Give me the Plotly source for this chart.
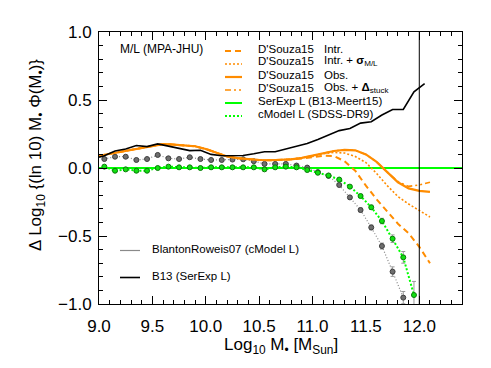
import plotly.graph_objects as go

# mass bins (log10 M*) for the binned measurements
mass_bins = [9.05, 9.15, 9.25, 9.35, 9.45, 9.55, 9.65, 9.75, 9.85, 9.95,
             10.05, 10.15, 10.25, 10.35, 10.45, 10.55, 10.65, 10.75, 10.85, 10.95,
             11.05, 11.15, 11.25, 11.35, 11.45, 11.55, 11.65, 11.75, 11.85, 11.95]

# BlantonRoweis07 (cModel L)
br07_mass = [9.05, 9.15, 9.25, 9.35, 9.45, 9.55, 9.65, 9.75, 9.85, 9.95,
             10.05, 10.15, 10.25, 10.35, 10.45, 10.55, 10.65, 10.75, 10.85, 10.95,
             11.05, 11.15, 11.25, 11.35, 11.45, 11.55, 11.65, 11.75, 11.85]
br07_val = [0.066, 0.083, 0.083, 0.059, 0.066, 0.096, 0.071, 0.066, 0.079, 0.066,
            0.059, 0.059, 0.062, 0.064, 0.050, 0.030, 0.030, 0.030, 0.018, 0.003,
            -0.030, -0.058, -0.125, -0.216, -0.309, -0.437, -0.574, -0.762, -0.953]
br07_err = [0.008, 0.008, 0.008, 0.008, 0.008, 0.008, 0.008, 0.008, 0.008, 0.008,
            0.008, 0.008, 0.008, 0.008, 0.008, 0.008, 0.008, 0.008, 0.008, 0.008,
            0.010, 0.010, 0.012, 0.013, 0.015, 0.018, 0.022, 0.035, 0.045]

# cModel L (SDSS-DR9)
cmodel_val = [0.010, -0.020, -0.010, -0.020, -0.020, 0.000, 0.010, 0.005, 0.005, 0.000,
              0.005, 0.005, 0.005, 0.005, 0.005, -0.010, 0.005, 0.010, 0.005, -0.015,
              -0.035, -0.055, -0.085, -0.137, -0.206, -0.289, -0.390, -0.520, -0.657, -0.934]
cmodel_err = [0.008, 0.008, 0.008, 0.008, 0.008, 0.008, 0.008, 0.008, 0.008, 0.008,
              0.008, 0.008, 0.008, 0.008, 0.008, 0.008, 0.008, 0.008, 0.008, 0.008,
              0.008, 0.008, 0.008, 0.010, 0.012, 0.016, 0.020, 0.028, 0.043, 0.100]

# SerExp L (B13-Meert15) is the reference
serexp_mass = [9.0, 12.4]
serexp_val = [0.0, 0.0]

# B13 (SerExp L)
b13_mass = [9.0, 9.05, 9.15, 9.25, 9.35, 9.45, 9.55, 9.65, 9.75, 9.85, 9.95,
            10.05, 10.15, 10.25, 10.35, 10.45, 10.55, 10.65, 10.75, 10.85, 10.95,
            11.05, 11.15, 11.25, 11.35, 11.45, 11.55, 11.65, 11.75, 11.85, 11.95, 12.05]
b13_val = [0.080, 0.090, 0.125, 0.140, 0.165, 0.157, 0.177, 0.160, 0.143, 0.128, 0.130,
           0.100, 0.090, 0.090, 0.092, 0.105, 0.120, 0.120, 0.140, 0.160, 0.180,
           0.210, 0.240, 0.275, 0.290, 0.330, 0.340, 0.390, 0.430, 0.430, 0.560, 0.620]

# D'Souza15 curves
ds_mass = [9.0, 9.1, 9.2, 9.3, 9.4, 9.5, 9.6, 9.7, 9.8, 9.9,
           10.0, 10.1, 10.2, 10.3, 10.4, 10.5, 10.6, 10.7, 10.8, 10.9,
           11.0, 11.1, 11.2, 11.3, 11.4, 11.5, 11.6, 11.7, 11.8, 11.9, 12.0, 12.1]
ds_obs = [0.090, 0.105, 0.115, 0.130, 0.145, 0.165, 0.176, 0.172, 0.166, 0.160,
          0.140, 0.110, 0.085, 0.072, 0.064, 0.059, 0.057, 0.058, 0.064, 0.075,
          0.090, 0.110, 0.125, 0.133, 0.130, 0.100, 0.045, -0.030, -0.105, -0.150,
          -0.168, -0.175]
ds_obs_stuck = [0.090, 0.105, 0.115, 0.130, 0.145, 0.165, 0.176, 0.172, 0.166, 0.160,
                0.140, 0.110, 0.085, 0.072, 0.064, 0.059, 0.057, 0.058, 0.064, 0.075,
                0.090, 0.110, 0.125, 0.133, 0.130, 0.100, 0.045, -0.030, -0.100, -0.135,
                -0.125, -0.105]
ds_intr = [0.090, 0.105, 0.115, 0.130, 0.145, 0.165, 0.176, 0.172, 0.166, 0.160,
           0.140, 0.110, 0.085, 0.072, 0.064, 0.059, 0.057, 0.058, 0.064, 0.070,
           0.080, 0.090, 0.088, 0.050, -0.020, -0.130, -0.230, -0.320, -0.410, -0.480,
           -0.580, -0.700]
ds_intr_sigma = [0.090, 0.105, 0.115, 0.130, 0.145, 0.165, 0.176, 0.172, 0.166, 0.160,
                 0.140, 0.110, 0.085, 0.072, 0.064, 0.059, 0.057, 0.058, 0.064, 0.075,
                 0.085, 0.105, 0.115, 0.110, 0.085, 0.040, -0.040, -0.130, -0.210, -0.265,
                 -0.315, -0.360]

mass_limit = 12.0

ORANGE = "#ff8c00"
GREEN = "#00ff00"
FONT = "Liberation Sans"

# the page has an 8px body margin, so work in page pixels and shift
OFF = 8
W, H = 491 - OFF, 368 - OFF
L, R, T, B = 99 - OFF, 462 - OFF, 32 - OFF, 304 - OFF


def paper(x, y):
    # page pixel -> paper coords
    x, y = x - OFF, y - OFF
    return (x - L) / (R - L), (B - y) / (B - T)


fig = go.Figure()

fig.add_trace(go.Scatter(x=serexp_mass, y=serexp_val, mode="lines",
                         line=dict(color=GREEN, width=2)))
fig.add_trace(go.Scatter(x=br07_mass, y=br07_val, mode="lines+markers",
                         line=dict(color="#8a8a8a", width=1.2, dash="1px,2px"),
                         marker=dict(color="#6e6e6e", size=5, symbol="circle",
                                     line=dict(color="#3f3f3f", width=1)),
                         error_y=dict(type="data", array=br07_err, color="#9a9a9a",
                                      thickness=1, width=2)))
fig.add_trace(go.Scatter(x=mass_bins, y=cmodel_val, mode="lines+markers",
                         line=dict(color=GREEN, width=2, dash="2px,2px"),
                         marker=dict(color="#10e010", size=5, symbol="circle",
                                     line=dict(color="#0a7a0a", width=1)),
                         error_y=dict(type="data", array=cmodel_err, color="#9a9a9a",
                                      thickness=1, width=2)))
fig.add_trace(go.Scatter(x=ds_mass, y=ds_intr, mode="lines",
                         line=dict(color=ORANGE, width=2, dash="6px,4px")))
fig.add_trace(go.Scatter(x=ds_mass, y=ds_intr_sigma, mode="lines",
                         line=dict(color=ORANGE, width=1.6, dash="2px,2px")))
fig.add_trace(go.Scatter(x=ds_mass, y=ds_obs_stuck, mode="lines",
                         line=dict(color=ORANGE, width=1.6, dash="6px,3px,2px,3px,2px,3px")))
fig.add_trace(go.Scatter(x=ds_mass, y=ds_obs, mode="lines",
                         line=dict(color=ORANGE, width=2.2)))
fig.add_trace(go.Scatter(x=b13_mass, y=b13_val, mode="lines",
                         line=dict(color="black", width=1.6)))

shapes = [dict(type="line", xref="x", yref="paper", x0=mass_limit, x1=mass_limit,
               y0=0, y1=1, line=dict(color="black", width=1))]
annotations = []

# top-right legend
rows = [("D'Souza15", "Intr.", dict(color=ORANGE, width=2, dash="6px,4px")),
        ("D'Souza15", "Intr. + <b>σ</b><sub>M/L</sub>", dict(color=ORANGE, width=1.6, dash="2px,2px")),
        ("D'Souza15", "Obs.", dict(color=ORANGE, width=2.2)),
        ("D'Souza15", "Obs. + <b>Δ</b><sub>stuck</sub>", dict(color=ORANGE, width=1.6, dash="6px,3px,2px,3px,2px,3px")),
        ("SerExp L (B13-Meert15)", "", dict(color=GREEN, width=2)),
        ("cModel L (SDSS-DR9)", "", dict(color=GREEN, width=2, dash="2px,2px"))]
for i, (name, kind, ln) in enumerate(rows):
    ty = 48.5 + 13 * i
    x0, y0 = paper(225, ty + 2.5)
    x1, _ = paper(242, ty + 2.5)
    shapes.append(dict(type="line", xref="paper", yref="paper", x0=x0, x1=x1,
                       y0=y0, y1=y0, line=ln))
    ax, ay = paper(256, ty)
    annotations.append(dict(x=ax, y=ay, xref="paper", yref="paper", text=name,
                            showarrow=False, xanchor="left", yanchor="middle",
                            font=dict(size=11.5, color="black", family=FONT)))
    if kind:
        ax, ay = paper(322, ty)
        annotations.append(dict(x=ax, y=ay, xref="paper", yref="paper", text=kind,
                                showarrow=False, xanchor="left", yanchor="middle",
                                font=dict(size=11.5, color="black", family=FONT)))

ax, ay = paper(118, 48.5)
annotations.append(dict(x=ax, y=ay, xref="paper", yref="paper", text="M/L (MPA-JHU)",
                        showarrow=False, xanchor="left", yanchor="middle",
                        font=dict(size=12, color="black", family=FONT)))

# bottom-left legend
for ty, name, ln in [(248.5, "BlantonRoweis07 (cModel L)", dict(color="#8a8a8a", width=1.2)),
                     (275.5, "B13 (SerExp L)", dict(color="black", width=1.6))]:
    x0, y0 = paper(120, ty + 2)
    x1, _ = paper(140, ty + 2)
    shapes.append(dict(type="line", xref="paper", yref="paper", x0=x0, x1=x1,
                       y0=y0, y1=y0, line=ln))
    ax, ay = paper(150, ty)
    annotations.append(dict(x=ax, y=ay, xref="paper", yref="paper", text=name,
                            showarrow=False, xanchor="left", yanchor="middle",
                            font=dict(size=11.5, color="black", family=FONT)))

# axis titles
ax, ay = paper(280.5, 346)
annotations.append(dict(x=ax, y=ay, xref="paper", yref="paper",
                        text="Log<sub>10</sub> M<sub>•</sub> [M<sub>Sun</sub>]",
                        showarrow=False, xanchor="center", yanchor="middle",
                        font=dict(size=17, color="black", family=FONT)))
ax, ay = paper(37, 155)
annotations.append(dict(x=ax, y=ay, xref="paper", yref="paper",
                        text="Δ Log<sub>10</sub> {(ln 10) M<sub>•</sub> Φ(M<sub>•</sub>)}",
                        showarrow=False, xanchor="center", yanchor="middle", textangle=-90,
                        font=dict(size=17, color="black", family=FONT)))

axis_common = dict(showgrid=False, zeroline=False, showline=True, linecolor="black",
                   linewidth=1, mirror="ticks", ticks="inside", ticklen=8, tickwidth=1,
                   tickcolor="black", tickformat=".1f", automargin=False,
                   tickfont=dict(size=17, color="black", family=FONT),
                   minor=dict(ticks="inside", ticklen=4, tickwidth=1, tickcolor="black",
                              showgrid=False))

fig.update_layout(
    width=W, height=H,
    margin=dict(l=L, r=W - R, t=T, b=H - B),
    paper_bgcolor="white", plot_bgcolor="white",
    showlegend=False,
    font=dict(family=FONT, color="black"),
    xaxis=dict(range=[9.0, 12.4], tick0=9.0, dtick=0.5, ticklabelstandoff=7, **axis_common),
    yaxis=dict(range=[-1.0, 1.0], tick0=-1.0, dtick=0.5, ticklabelstandoff=3, **axis_common),
    shapes=shapes,
    annotations=annotations,
)
fig.update_xaxes(minor_dtick=0.1)
fig.update_yaxes(minor_dtick=0.1)

fig.write_html("out.html")
